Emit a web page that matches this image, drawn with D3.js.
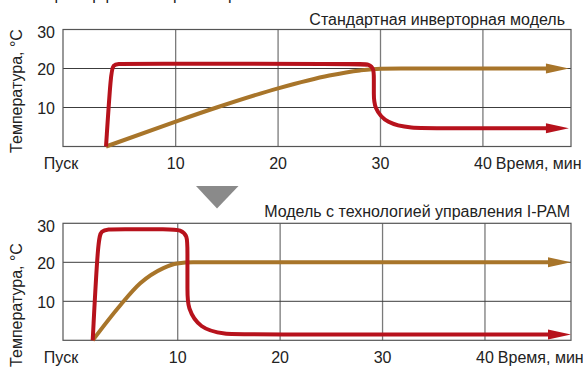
<!DOCTYPE html>
<html><head><meta charset="utf-8">
<script src="https://cdn.jsdelivr.net/npm/d3@7"></script>
<style>
html,body{margin:0;padding:0;background:#fff;}
svg{display:block;font-family:"Liberation Sans",Arial,Helvetica,sans-serif;}
</style></head><body>
<svg id="c" width="583" height="368"></svg>
<script>
// ---- data ----
const yTicks = [10, 20, 30];
const xTicks = [10, 20, 30, 40];
const startLabel = "Пуск";
const xTitle = "Время, мин";
const yTitle = "Температура, °С";
const heading = "Пример работы при обогреве";
const panelTitles = ["Стандартная инверторная модель", "Модель с технологией управления I-PAM"];
const arrowTip = 48.4;
// [minutes, °C]
const stdRed = [[3.2,0],[3.68,19.2],[3.9,20.9],[4.4,21.2],[5.2,21.2],[28.0,21.2],[28.9,21.1],[29.35,19.9],[29.35,17.5],[29.35,13.5],[29.35,10],[30.6,5.8],[33,4.7],[35.5,4.7],[arrowTip,4.7]];
const stdBrown = [[3.2,0],[10,6.4],[14,10],[20,14.9],[25,18.2],[28,19.5],[30,19.95],[32,20],[arrowTip,20]];
const pamRed = [[1.7,0],[2.22,26.2],[2.55,28.1],[3.2,28.5],[4.2,28.5],[9.2,28.5],[10.3,28.35],[10.95,26.8],[10.95,23.5],[10.95,12],[10.95,8.5],[12.1,3.0],[14.6,1.5],[17,1.5],[arrowTip,1.5]];
const pamBrown = [[1.7,0],[4.4,9],[6.34,14.6],[8.6,18.5],[9.95,19.7],[11.5,20],[arrowTip,20]];

const RED = "#b7121c", BROWN = "#a8752a";
const svg = d3.select("#c");
const FS = 16;

// partially visible heading at top
svg.append("text").attr("x", 43).attr("y", -0.5).attr("font-size", 16).attr("fill", "#222").text(heading);

const panels = [
  {red: stdRed, brown: stdBrown, top: 29.5, bottom: 146.5, dom: [-1.0, 48.6], title: panelTitles[0], titleX: 565, titleY: 25, yTitleY: 91},
  {red: pamRed, brown: pamBrown, top: 223.3, bottom: 340.3, dom: [-1.2, 48.4], title: panelTitles[1], titleX: 570, titleY: 217, yTitleY: 305}
];
const L = 63, R = 571, headLen = 23, headHalf = 5;

panels.forEach(p => {
  const x = d3.scaleLinear().domain(p.dom).range([L, R]);
  const y = d3.scaleLinear().domain([0, 30]).range([p.bottom, p.top]);
  const g = svg.append("g");

  // vertical grid
  g.selectAll(".vg").data(xTicks).join("line")
    .attr("x1", d => x(d)).attr("x2", d => x(d)).attr("y1", p.top).attr("y2", p.bottom)
    .attr("stroke", "#7a7a7a").attr("stroke-width", 1.3);
  // horizontal grid
  g.selectAll(".hg").data(yTicks.filter(d => d < 30)).join("line")
    .attr("x1", L).attr("x2", R).attr("y1", d => y(d)).attr("y2", d => y(d))
    .attr("stroke", "#3c3c3c").attr("stroke-width", 1);
  // frame
  g.append("rect").attr("x", L).attr("y", p.top).attr("width", R - L).attr("height", p.bottom - p.top)
    .attr("fill", "none").attr("stroke", "#555").attr("stroke-width", 1.2);

  // y tick labels
  g.selectAll(".yl").data(yTicks).join("text")
    .attr("x", 55).attr("y", d => y(d) + (d === 30 ? 3 : 0.5)).attr("dy", "0.36em")
    .attr("text-anchor", "end").attr("font-size", FS).attr("fill", "#222").text(d => d);
  // x tick labels
  const ly = p.bottom + 22.5;
  g.append("text").attr("x", L - 2).attr("y", ly).attr("text-anchor", "middle")
    .attr("font-size", FS).attr("fill", "#222").text(startLabel);
  const xl = g.selectAll(".xl").data(xTicks).join("text")
    .attr("x", d => x(d)).attr("y", ly).attr("text-anchor", "middle")
    .attr("font-size", FS).attr("fill", "#222").text(d => d);
  const lastW = xl.filter(d => d === 40).node().getComputedTextLength();
  g.append("text").attr("x", x(40) + lastW / 2 + 4).attr("y", ly)
    .attr("font-size", FS).attr("fill", "#222").text(xTitle);

  // y title
  g.append("text").attr("transform", `translate(21.5,${p.yTitleY}) rotate(-90)`)
    .attr("text-anchor", "middle").attr("font-size", FS).attr("fill", "#222").text(yTitle);
  // panel title
  g.append("text").attr("x", p.titleX).attr("y", p.titleY).attr("text-anchor", "end")
    .attr("font-size", FS).attr("fill", "#222").text(p.title);

  // series
  const cut = d => {
    const pts = d.map(v => v.slice());
    pts[pts.length - 1][0] = x.invert(x(arrowTip) - headLen + 2);
    return pts;
  };
  const lineB = d3.line().x(d => x(d[0])).y(d => y(d[1])).curve(d3.curveBasis);
  const lineM = d3.line().x(d => x(d[0])).y(d => y(d[1])).curve(d3.curveMonotoneX);
  [[p.brown, BROWN, lineM], [p.red, RED, lineB]].forEach(([d, col, ln]) => {
    g.append("path").attr("d", ln(cut(d))).attr("fill", "none").attr("stroke", col)
      .attr("stroke-width", 4).attr("stroke-linejoin", "round");
    const last = d[d.length - 1];
    const tx = x(last[0]), ty = y(last[1]);
    g.append("path").attr("d", `M${tx},${ty}L${tx - headLen},${ty - headHalf}L${tx - headLen},${ty + headHalf}Z`)
      .attr("fill", col);
  });
});

// down triangle between panels
svg.append("path").attr("d", "M196,186L238.5,186L217,208.5Z").attr("fill", "#8a8a8a");
</script>
</body></html>
